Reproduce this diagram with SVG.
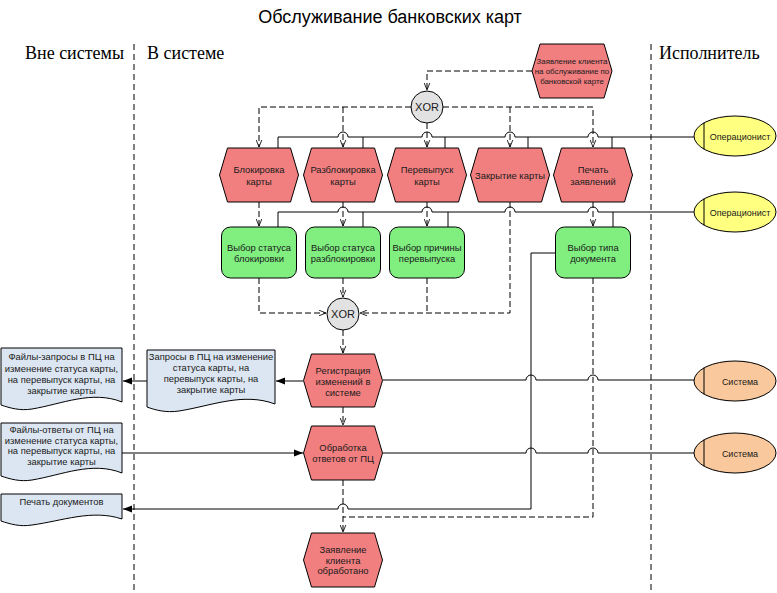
<svg xmlns="http://www.w3.org/2000/svg" width="777" height="593" viewBox="0 0 777 593">
<style>
text{font-family:"Liberation Sans",Arial,sans-serif;fill:#1a1a1a;text-anchor:middle}
.t{font-size:9.4px}
.a{font-size:9px}
.s{font-size:7.9px}
.title{font-size:18px;fill:#000}
.lane{font-family:"Liberation Serif","Times New Roman",serif;font-size:18px;fill:#000;text-anchor:start}
.ln{stroke:#000;stroke-width:1;fill:none;stroke-dasharray:6,4}
.cf{stroke:#000;stroke-width:1;fill:none;stroke-dasharray:6,3}
.of{stroke:#000;stroke-width:1;fill:none}
.ev{fill:#f27f80;stroke:#000;stroke-width:1}
.fn{fill:#80ef80;stroke:#000;stroke-width:1}
.doc{fill:#dce6f2;stroke:#000;stroke-width:1}
.xor{fill:#e2e2e2;stroke:#000;stroke-width:1}
.op{fill:#ffff80;stroke:#000;stroke-width:1}
.sy{fill:#f9c89c;stroke:#000;stroke-width:1}
</style>
<defs>
<marker id="va" viewBox="0 0 10 10" refX="10" refY="5" markerWidth="7" markerHeight="7" orient="auto" markerUnits="userSpaceOnUse"><path d="M0,1 L10,5 L0,9" fill="none" stroke="#000" stroke-width="1.2"/></marker>
<marker id="fa" viewBox="0 0 10 10" refX="10" refY="5" markerWidth="9" markerHeight="9" orient="auto" markerUnits="userSpaceOnUse"><path d="M0,1 L10,5 L0,9 Z" fill="#000"/></marker>
</defs>
<rect width="777" height="593" fill="#fff"/>
<text class="title" x="390" y="23">Обслуживание банковских карт</text>
<g id="lanes">
<text class="lane" x="25" y="59">Вне системы</text>
<text class="lane" x="147" y="59">В системе</text>
<text class="lane" x="659" y="59">Исполнитель</text>
<path class="ln" d="M134,44 V593 M651,44 V593"/>
</g>
<g id="connectors">
<path class="cf" d="M532,71 H427 V90" marker-end="url(#va)"/>
<path class="cf" d="M411,107 H259 V147" marker-end="url(#va)"/>
<path class="cf" d="M443,107 H593 V147" marker-end="url(#va)"/>
<path class="cf" d="M343,107 V147" marker-end="url(#va)"/>
<path class="cf" d="M510,107 V147" marker-end="url(#va)"/>
<path class="cf" d="M427,123 V147" marker-end="url(#va)"/>
<path class="cf" d="M259,202 V226" marker-end="url(#va)"/>
<path class="cf" d="M343,202 V226" marker-end="url(#va)"/>
<path class="cf" d="M427,202 V226" marker-end="url(#va)"/>
<path class="cf" d="M593,202 V226" marker-end="url(#va)"/>
<path class="cf" d="M510,202 V313 H360" marker-end="url(#va)"/>
<path class="cf" d="M259,278 V313 H326" marker-end="url(#va)"/>
<path class="cf" d="M343,278 V297" marker-end="url(#va)"/>
<path class="cf" d="M427,278 V313"/>
<path class="cf" d="M343,330 V353" marker-end="url(#va)"/>
<path class="cf" d="M343,407 V425" marker-end="url(#va)"/>
<path class="cf" d="M343,480 V532" marker-end="url(#va)"/>
<path class="cf" d="M593,278 V517 H343"/>
<path class="of" d="M278,148 V137 H338 A5,5 0 0 1 348,137 H422 A5,5 0 0 1 432,137 H505 A5,5 0 0 1 515,137 H588 A5,5 0 0 1 598,137 H694"/>
<path class="of" d="M363,137 V148 M445,137 V148 M528,137 V148 M612,137 V148"/>
<path class="of" d="M278,227 V212 H338 A5,5 0 0 1 348,212 H422 A5,5 0 0 1 432,212 H505 A5,5 0 0 1 515,212 H588 A5,5 0 0 1 598,212 H694"/>
<path class="of" d="M363,212 V227 M448,212 V227 M613,212 V227"/>
<path class="of" d="M694,380 H598 A5,5 0 0 0 588,380 H536 A5,5 0 0 0 526,380 H383"/>
<path class="of" d="M694,453 H598 A5,5 0 0 0 588,453 H536 A5,5 0 0 0 526,453 H383"/>
<path class="of" d="M303,381 H276" marker-end="url(#fa)"/>
<path class="of" d="M147,381 H123" marker-end="url(#fa)"/>
<path class="of" d="M122,453 H303" marker-end="url(#fa)"/>
<path class="of" d="M555,253 H531 V509 H348 A5,5 0 0 0 338,509 H123" marker-end="url(#fa)"/>
</g>
<g id="start">
<polygon class="ev" points="532,71 540,44 604,44 612,71 604,98 540,98"/>
<text class="s" x="572" y="64">Заявление клиента</text>
<text class="s" x="572" y="74">на обслуживание по</text>
<text class="s" x="572" y="84">банковской карте</text>
</g>
<g id="xor1">
<circle class="xor" cx="427" cy="107" r="16"/>
<text x="427" y="111" style="font-size:11px">XOR</text>
</g>
<g id="ev-block">
<polygon class="ev" points="219.5,175 227.5,148 290.5,148 298.5,175 290.5,202 227.5,202"/>
<text class="t" x="259" y="172.5">Блокировка</text><text class="t" x="259" y="184.5">карты</text>
</g>
<g id="ev-unblock">
<polygon class="ev" points="303.5,175 311.5,148 374.5,148 382.5,175 374.5,202 311.5,202"/>
<text class="t" x="343" y="172.5">Разблокировка</text><text class="t" x="343" y="184.5">карты</text>
</g>
<g id="ev-reissue">
<polygon class="ev" points="387.5,175 395.5,148 458.5,148 466.5,175 458.5,202 395.5,202"/>
<text class="t" x="427" y="172.5">Перевыпуск</text><text class="t" x="427" y="184.5">карты</text>
</g>
<g id="ev-close">
<polygon class="ev" points="470.5,175 478.5,148 541.5,148 549.5,175 541.5,202 478.5,202"/>
<text class="t" x="510" y="178.5">Закрытие карты</text>
</g>
<g id="ev-print">
<polygon class="ev" points="553.5,175 561.5,148 624.5,148 632.5,175 624.5,202 561.5,202"/>
<text class="t" x="593" y="172.5">Печать</text><text class="t" x="593" y="184.5">заявлений</text>
</g>
<g id="fn-block">
<rect class="fn" x="221.5" y="227" width="75" height="51" rx="9"/>
<text class="t" x="259" y="251">Выбор статуса</text><text class="t" x="259" y="262">блокировки</text>
</g>
<g id="fn-unblock">
<rect class="fn" x="305.5" y="227" width="75" height="51" rx="9"/>
<text class="t" x="343" y="251">Выбор статуса</text><text class="t" x="343" y="262">разблокировки</text>
</g>
<g id="fn-reissue">
<rect class="fn" x="389.5" y="227" width="75" height="51" rx="9"/>
<text class="t" x="427" y="251">Выбор причины</text><text class="t" x="427" y="262">перевыпуска</text>
</g>
<g id="fn-doctype">
<rect class="fn" x="555.5" y="227" width="75" height="51" rx="9"/>
<text class="t" x="593" y="251">Выбор типа</text><text class="t" x="593" y="262">документа</text>
</g>
<g id="xor2">
<circle class="xor" cx="343" cy="314" r="16"/>
<text x="343" y="318" style="font-size:11px">XOR</text>
</g>
<g id="ev-register">
<polygon class="ev" points="303.5,380.5 311.5,354 374.5,354 382.5,380.5 374.5,407 311.5,407"/>
<text class="t" x="343" y="373.5">Регистрация</text><text class="t" x="343" y="384.5">изменений в</text><text class="t" x="343" y="395.5">системе</text>
</g>
<g id="ev-process">
<polygon class="ev" points="303.5,453 311.5,426 374.5,426 382.5,453 374.5,480 311.5,480"/>
<text class="t" x="343" y="451">Обработка</text><text class="t" x="343" y="462">ответов от ПЦ</text>
</g>
<g id="ev-end">
<polygon class="ev" points="303.5,560 311.5,533 374.5,533 382.5,560 374.5,587 311.5,587"/>
<text class="t" x="343" y="553">Заявление</text><text class="t" x="343" y="563.5">клиента</text><text class="t" x="343" y="574">обработано</text>
</g>
<g id="doc-requests">
<path class="doc" d="M147,350 H275 V404 C243,392 211,406 179,411 C166,413 155,410 147,407 Z"/>
<text class="t" x="211" y="360">Запросы в ПЦ на изменение</text><text class="t" x="211" y="371">статуса карты, на</text><text class="t" x="211" y="382">перевыпуск карты, на</text><text class="t" x="211" y="393">закрытие карты</text>
</g>
<g id="doc-file-requests">
<path class="doc" d="M1,348 H122 V402 C92,390 62,404 32,409 C20,411 10,408 1,405 Z"/>
<text class="t" x="61.5" y="360">Файлы-запросы в ПЦ на</text><text class="t" x="61.5" y="371.5">изменение статуса карты,</text><text class="t" x="61.5" y="382.5">на перевыпуск карты, на</text><text class="t" x="61.5" y="393.5">закрытие карты</text>
</g>
<g id="doc-file-answers">
<path class="doc" d="M1,423 H122 V473 C92,461 62,475 32,480 C20,482 10,479 1,476 Z"/>
<text class="t" x="61.5" y="433">Файлы-ответы от ПЦ на</text><text class="t" x="61.5" y="443.5">изменение статуса карты,</text><text class="t" x="61.5" y="454">на перевыпуск карты, на</text><text class="t" x="61.5" y="465">закрытие карты</text>
</g>
<g id="doc-print">
<path class="doc" d="M1,494 H122 V519 C92,509 62,521 32,525 C20,527 10,524 1,521 Z"/>
<text class="t" x="61.5" y="505">Печать документов</text>
</g>
<g id="actor-op1">
<ellipse class="op" cx="735" cy="136" rx="41" ry="20"/>
<path class="of" d="M704,122.5 V149.5"/>
<text class="a" x="740" y="139.5">Операционист</text>
</g>
<g id="actor-op2">
<ellipse class="op" cx="735" cy="212" rx="41" ry="20"/>
<path class="of" d="M704,198.5 V225.5"/>
<text class="a" x="740" y="215.5">Операционист</text>
</g>
<g id="actor-sys1">
<ellipse class="sy" cx="735" cy="381" rx="41" ry="20"/>
<path class="of" d="M704,367.5 V394.5"/>
<text class="a" x="740" y="384.5">Система</text>
</g>
<g id="actor-sys2">
<ellipse class="sy" cx="735" cy="453" rx="41" ry="20"/>
<path class="of" d="M704,439.5 V466.5"/>
<text class="a" x="740" y="456.5">Система</text>
</g>
</svg>
